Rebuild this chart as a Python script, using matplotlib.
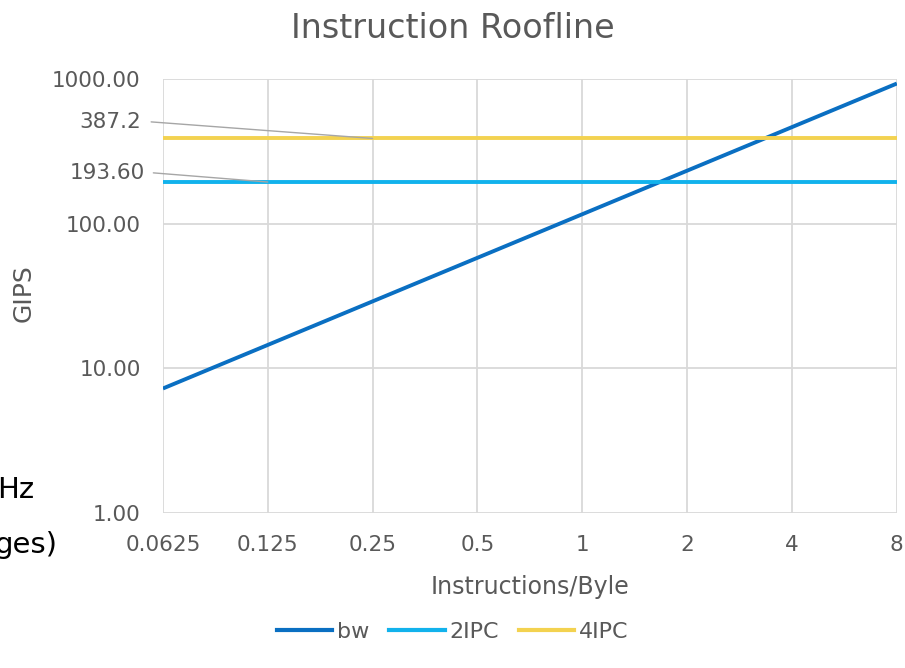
import matplotlib.pyplot as plt
from matplotlib.lines import Line2D

plt.rcParams['font.family'] = ['DejaVu Sans']

# x categories (instructions per byte) and series values
intensity = [0.0625, 0.125, 0.25, 0.5, 1, 2, 4, 8]
x_labels = ['0.0625', '0.125', '0.25', '0.5', '1', '2', '4', '8']
bw = [7.25, 14.5, 29.0, 58.0, 116.0, 232.0, 464.0, 928.0]
ipc2 = [193.6, 193.6, 193.6, 193.6, 193.6, 193.6, 193.6, 193.6]
ipc4 = [387.2, 387.2, 387.2, 387.2, 387.2, 387.2, 387.2, 387.2]
y_ticks = [1, 10, 100, 1000]
y_labels = ['1.00', '10.00', '100.00', '1000.00']

txt = '#595959'
grid = '#d9d9d9'
lead = '#a6a6a6'

fig = plt.figure(figsize=(9.05, 6.68), dpi=100)
ax = fig.add_axes([0.180, 0.232, 0.811, 0.650])

ax.plot(intensity, bw, color='#0a6fc2', lw=2.8, solid_capstyle='butt', zorder=3, label='bw')
ax.plot(intensity, ipc2, color='#12b2ec', lw=2.8, solid_capstyle='butt', zorder=3, label='2IPC')
ax.plot(intensity, ipc4, color='#f3d250', lw=2.8, solid_capstyle='butt', zorder=3, label='4IPC')

ax.set_xscale('log', base=2)
ax.set_yscale('log')
ax.set_xlim(intensity[0], intensity[-1])
ax.set_ylim(1, 1000)
ax.set_xticks(intensity)
ax.set_xticklabels(x_labels)
ax.set_yticks(y_ticks)
ax.set_yticklabels(y_labels)
ax.minorticks_off()
ax.tick_params(axis='both', length=0, labelsize=15.5, colors=txt)
ax.tick_params(axis='x', pad=16)
ax.tick_params(axis='y', pad=16)
ax.grid(True, color=grid, lw=1.3)
ax.set_axisbelow(True)
for s in ax.spines.values():
    s.set_visible(False)

# data labels with leader lines
ax.text(-0.030, 504, '387.2', transform=ax.get_yaxis_transform(), ha='right', va='center',
        fontsize=15.5, color=txt)
ax.annotate('', xy=(intensity[2], ipc4[2]), xytext=(-0.016, 504),
            textcoords=('axes fraction', 'data'), annotation_clip=False,
            arrowprops=dict(arrowstyle='-', color=lead, lw=1, shrinkA=0, shrinkB=0))
ax.text(-0.025, 224, '193.60', transform=ax.get_yaxis_transform(), ha='right', va='center',
        fontsize=15.5, color=txt)
ax.annotate('', xy=(intensity[1], ipc2[1]), xytext=(-0.013, 224),
            textcoords=('axes fraction', 'data'), annotation_clip=False,
            arrowprops=dict(arrowstyle='-', color=lead, lw=1, shrinkA=0, shrinkB=0))

fig.text(0.5, 0.958, 'Instruction Roofline', ha='center', va='center', fontsize=24, color=txt)
fig.text(0.586, 0.121, 'Instructions/Byle', ha='center', va='center', fontsize=17, color=txt)
fig.text(0.026, 0.561, 'GIPS', ha='center', va='center', rotation=90, fontsize=18, color=txt)

# fragments of neighbouring slide content at the left edge
fig.text(-0.003, 0.267, 'Hz', ha='left', va='center', fontsize=21, color='black')
fig.text(-0.0066, 0.184, 'ges)', ha='left', va='center', fontsize=21, color='black')

handles = [Line2D([], [], color='#0a6fc2', lw=3),
           Line2D([], [], color='#12b2ec', lw=3),
           Line2D([], [], color='#f3d250', lw=3)]
fig.legend(handles, ['bw', '2IPC', '4IPC'], loc='center', bbox_to_anchor=(0.5, 0.054),
           ncol=3, frameon=False, fontsize=16, labelcolor=txt, handlelength=2.5,
           handletextpad=0.2, columnspacing=0.9)

fig.savefig('out.png', dpi=100)
